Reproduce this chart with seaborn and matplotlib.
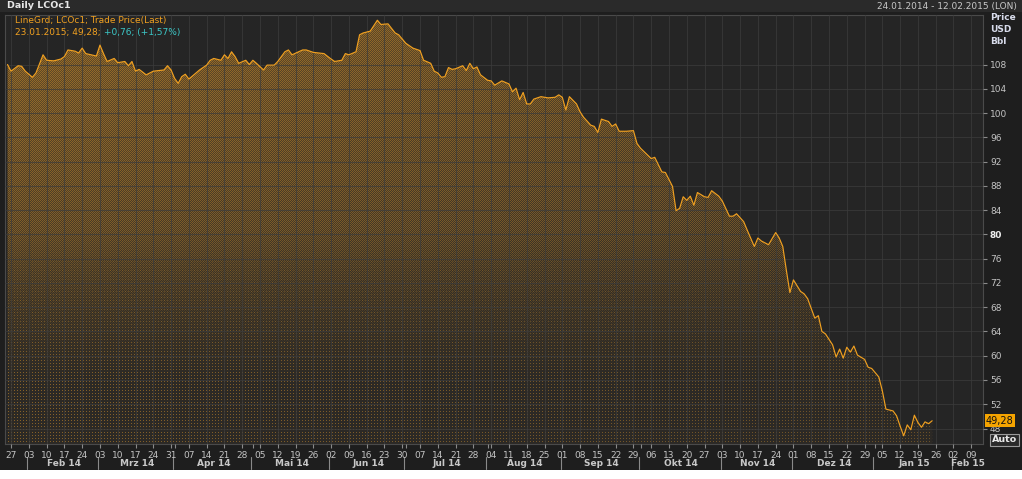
import numpy as np
import pandas as pd
import matplotlib
matplotlib.use("Agg")
import matplotlib.pyplot as plt
import matplotlib.transforms as mtransforms
from matplotlib.patches import Polygon, Rectangle
import seaborn as sns

# Brent LCOc1 daily closes
dates = [
    '2014-01-24', '2014-01-27', '2014-01-29', '2014-01-30', '2014-01-31', '2014-02-04', '2014-02-05',
    '2014-02-07', '2014-02-10', '2014-02-12', '2014-02-14', '2014-02-17', '2014-02-18', '2014-02-20',
    '2014-02-21', '2014-02-24', '2014-02-25', '2014-02-28', '2014-03-03', '2014-03-04', '2014-03-05',
    '2014-03-07', '2014-03-10', '2014-03-12', '2014-03-13', '2014-03-14', '2014-03-17', '2014-03-18',
    '2014-03-20', '2014-03-24', '2014-03-27', '2014-03-28', '2014-03-31', '2014-04-01', '2014-04-02',
    '2014-04-03', '2014-04-04', '2014-04-07', '2014-04-09', '2014-04-10', '2014-04-14', '2014-04-15',
    '2014-04-16', '2014-04-18', '2014-04-21', '2014-04-22', '2014-04-23', '2014-04-24', '2014-04-25',
    '2014-04-29', '2014-04-30', '2014-05-01', '2014-05-02', '2014-05-06', '2014-05-07', '2014-05-09',
    '2014-05-12', '2014-05-14', '2014-05-15', '2014-05-16', '2014-05-21', '2014-05-22', '2014-05-26',
    '2014-05-29', '2014-06-02', '2014-06-03', '2014-06-05', '2014-06-06', '2014-06-09', '2014-06-11',
    '2014-06-12', '2014-06-13', '2014-06-17', '2014-06-19', '2014-06-20', '2014-06-24', '2014-06-26',
    '2014-06-27', '2014-07-01', '2014-07-03', '2014-07-07', '2014-07-08', '2014-07-10', '2014-07-11',
    '2014-07-14', '2014-07-15', '2014-07-16', '2014-07-17', '2014-07-18', '2014-07-21', '2014-07-23',
    '2014-07-24', '2014-07-25', '2014-07-28', '2014-07-29', '2014-07-30', '2014-08-01', '2014-08-04',
    '2014-08-05', '2014-08-07', '2014-08-11', '2014-08-12', '2014-08-13', '2014-08-14', '2014-08-15',
    '2014-08-18', '2014-08-19', '2014-08-20', '2014-08-22', '2014-08-26', '2014-08-28', '2014-08-29',
    '2014-09-01', '2014-09-02', '2014-09-03', '2014-09-05', '2014-09-08', '2014-09-09', '2014-09-11',
    '2014-09-12', '2014-09-15', '2014-09-16', '2014-09-18', '2014-09-19', '2014-09-22', '2014-09-23',
    '2014-09-25', '2014-09-29', '2014-09-30', '2014-10-01', '2014-10-06', '2014-10-07', '2014-10-09',
    '2014-10-10', '2014-10-14', '2014-10-15', '2014-10-16', '2014-10-17', '2014-10-20', '2014-10-21',
    '2014-10-22', '2014-10-23', '2014-10-27', '2014-10-28', '2014-10-29', '2014-10-31', '2014-11-03',
    '2014-11-05', '2014-11-06', '2014-11-07', '2014-11-11', '2014-11-12', '2014-11-14', '2014-11-17',
    '2014-11-18', '2014-11-20', '2014-11-24', '2014-11-25', '2014-11-26', '2014-11-27', '2014-11-28',
    '2014-12-01', '2014-12-03', '2014-12-04', '2014-12-05', '2014-12-09', '2014-12-10', '2014-12-11',
    '2014-12-12', '2014-12-16', '2014-12-17', '2014-12-18', '2014-12-19', '2014-12-22', '2014-12-23',
    '2014-12-24', '2014-12-25', '2014-12-29', '2014-12-30', '2014-12-31', '2015-01-02', '2015-01-05',
    '2015-01-06', '2015-01-08', '2015-01-09', '2015-01-12', '2015-01-13', '2015-01-14', '2015-01-15',
    '2015-01-16', '2015-01-19', '2015-01-20', '2015-01-21', '2015-01-22', '2015-01-23',
]
prices = [
    108.0, 106.9, 107.8, 107.7, 106.9, 105.9, 106.6,
    109.6, 108.7, 108.6, 108.9, 109.3, 110.4, 110.2,
    109.9, 110.7, 109.8, 109.4, 111.2, 109.8, 108.5,
    109.0, 108.3, 108.5, 107.8, 108.5, 106.9, 107.2,
    106.3, 106.9, 107.1, 107.8, 107.1, 105.7, 104.9,
    106.0, 106.4, 105.6, 106.6, 107.1, 107.9, 108.7,
    109.0, 108.7, 109.6, 109.0, 110.1, 109.3, 108.2,
    108.7, 108.0, 108.7, 108.2, 107.1, 107.9, 107.9,
    108.5, 110.1, 110.4, 109.6, 110.4, 110.4, 110.0,
    109.8, 108.9, 108.5, 108.7, 109.8, 109.6, 110.1,
    112.9, 113.2, 113.5, 115.3, 114.6, 114.7, 113.2,
    112.9, 111.5, 110.7, 110.3, 108.7, 108.2, 106.9,
    106.6, 105.9, 106.0, 107.5, 107.2, 107.3, 107.8,
    107.0, 108.2, 107.3, 107.6, 106.3, 105.4, 105.3,
    104.6, 105.3, 104.8, 103.5, 104.1, 102.2, 103.4,
    101.5, 101.5, 102.3, 102.7, 102.5, 102.6, 103.0,
    102.6, 100.5, 102.7, 101.5, 100.2, 99.3, 98.0,
    97.8, 96.8, 99.0, 98.6, 97.8, 98.2, 97.0,
    97.0, 97.1, 95.0, 94.2, 92.5, 92.7, 90.3,
    90.2, 87.9, 83.9, 84.3, 86.2, 85.6, 86.3,
    84.8, 86.9, 86.2, 86.1, 87.2, 86.3, 85.5,
    83.0, 83.0, 83.4, 82.1, 80.7, 78.0, 79.4,
    78.9, 78.3, 80.3, 79.4, 78.0, 74.1, 70.4,
    72.5, 70.6, 70.2, 69.4, 66.2, 66.6, 64.0,
    63.6, 61.8, 59.8, 61.1, 59.6, 61.4, 60.6,
    61.6, 60.1, 59.4, 58.1, 57.9, 56.5, 54.2,
    51.2, 50.9, 50.1, 48.4, 46.8, 48.6, 47.8,
    50.2, 49.0, 48.2, 49.1, 48.8, 49.28,
]
y_ticks = list(range(48, 109, 4))
month_names = ['Jan', 'Feb', 'Mrz', 'Apr', 'Mai', 'Jun', 'Jul', 'Aug', 'Sep', 'Okt', 'Nov', 'Dez']

ORANGE = '#f0a020'
CYAN = '#3cc8c8'
FIG_BG = '#1e1e1e'
AX_BG = '#252525'

sns.set_theme(style="dark")
plt.rcParams['font.family'] = ['DejaVu Sans']

# x axis runs on trading sessions (weekends skipped)
sessions = pd.bdate_range('2014-01-24', '2015-02-12')
df = pd.DataFrame({'date': pd.to_datetime(dates), 'price': prices})
df['pos'] = sessions.get_indexer(df['date'])

W_PX, H_PX = 1022, 479
fig = plt.figure(figsize=(W_PX / 100, H_PX / 100), dpi=100, facecolor=FIG_BG)


def px(x, y):
    return x / W_PX, 1 - y / H_PX


ax_l, ax_t, ax_r, ax_b = 5, 15, 983, 444
ax = fig.add_axes([ax_l / W_PX, 1 - ax_b / H_PX, (ax_r - ax_l) / W_PX, (ax_b - ax_t) / H_PX])
ax.set_zorder(2)
ax.patch.set_alpha(0)
fig.add_artist(Rectangle((ax_l / W_PX, 1 - ax_b / H_PX), (ax_r - ax_l) / W_PX, (ax_b - ax_t) / H_PX,
                         transform=fig.transFigure, facecolor=AX_BG, edgecolor='none', zorder=0.1))
xlim = (-0.7, 274.3)
ylim = (45.45, 116.16)

# dotted gradient texture for the area under the line (pixel exact via figimage)
W, H = ax_r - ax_l, ax_b - ax_t
yy, xx = np.mgrid[0:H, 0:W]
t = yy / (H - 1)
s = xx / (W - 1)
g = 1 - 0.3 * s
m = (0.48 - 0.30 * t) * g
checker = (xx + yy) % 2 == 0
a_check = np.where(checker, m + 0.14, np.clip(m - 0.14, 0.02, None))
grid3 = (xx % 3 == 0) & (yy % 3 == 0)
a_sparse = np.where(grid3, 0.5 * g, 0.04)
w = np.clip((t - 0.5) / 0.35, 0, 1)
a = ((1 - w) * a_check + w * a_sparse)[..., None]
dark = np.array([37, 37, 37]) / 255
orange = np.array([232, 158, 45]) / 255
img = np.clip(dark + a * (orange - dark), 0, 1)

im = fig.figimage(img, xo=ax_l, yo=H_PX - ax_b, origin='upper', zorder=1)
verts = [(df['pos'].iloc[0], ylim[0])] + list(zip(df['pos'], df['price'])) + [(df['pos'].iloc[-1], ylim[0])]
clip = Polygon(verts, closed=True, transform=ax.transData, facecolor='none', edgecolor='none')
ax.add_patch(clip)
im.set_clip_path(clip)

sns.lineplot(data=df, x='pos', y='price', ax=ax, color=ORANGE, linewidth=0.85, zorder=4)

ax.set_xlim(*xlim)
ax.set_ylim(*ylim)
ax.set_xlabel('')
ax.set_ylabel('')

# weekly ticks on Mondays
mondays = [i for i, d in enumerate(sessions) if d.weekday() == 0]
ax.set_xticks(mondays)
ax.set_xticklabels([sessions[i].strftime('%d') for i in mondays])
month_starts = [i for i in range(1, len(sessions)) if sessions[i].month != sessions[i - 1].month]
ax.set_xticks(month_starts, minor=True)

ax.yaxis.tick_right()
ax.set_yticks(y_ticks)
ax.set_yticklabels([str(v) for v in y_ticks])

ax.tick_params(axis='both', which='both', colors='#8a8a8a', labelcolor='#c4c4c4',
               labelsize=6.5, length=3, width=0.8, direction='out', pad=2)
ax.tick_params(axis='y', which='major', right=True, left=False)
ax.tick_params(axis='x', which='both', bottom=True)
for lab in ax.get_yticklabels():
    if lab.get_text() == '80':
        lab.set_fontweight('bold')
        lab.set_color('#f0f0f0')

ax.grid(True, which='major', color='#3c3c3c', linewidth=0.8, alpha=0.7)
ax.set_axisbelow(False)
for sp in ax.spines.values():
    sp.set_color('#4a4a4a')
    sp.set_linewidth(0.8)

# month row under the day labels
trans = mtransforms.blended_transform_factory(ax.transData, fig.transFigure)
bounds = month_starts + [xlim[1]]
for j, start in enumerate(month_starts):
    d = sessions[start]
    mid = (start + bounds[j + 1]) / 2
    name = f"{month_names[d.month - 1]} {d.strftime('%y')}"
    fig.text(mid, 1 - 464 / H_PX, name, transform=trans, ha='center', va='center',
             fontsize=6.5, fontweight='bold', color='#c8c8c8')
    ax.plot([start - 0.5, start - 0.5], [1 - 457 / H_PX, 1 - 469 / H_PX], transform=trans,
            color='#8a8a8a', lw=0.8, clip_on=False)

# header
fig.add_artist(Rectangle((0, 1 - 12 / H_PX), 1, 12 / H_PX, transform=fig.transFigure,
                         facecolor='#2a2a2a', edgecolor='none', zorder=0.1))
fig.text(*px(7, 6), 'Daily LCOc1', fontsize=6.8, fontweight='bold', color='#e6e6e6', va='center')
fig.text(*px(1017, 6), '24.01.2014 - 12.02.2015 (LON)', fontsize=6.5, color='#c8c8c8',
         va='center', ha='right')

# legend lines inside the plot
fig.text(*px(15, 20), 'LineGrd; LCOc1; Trade Price(Last)', fontsize=6.5, color=ORANGE, va='center',
         zorder=5)
t1 = fig.text(*px(15, 33), '23.01.2015; 49,28; ', fontsize=6.5, color=ORANGE, va='center', zorder=5)
renderer = fig.canvas.get_renderer()
bb = t1.get_window_extent(renderer)
fig.text(bb.x1 / W_PX, 1 - 33 / H_PX, '+0,76; (+1,57%)', fontsize=6.5, color=CYAN, va='center',
         zorder=5)

# unit labels on the right
for yy_px, lbl in [(18, 'Price'), (30, 'USD'), (41, 'Bbl')]:
    fig.text(*px(990, yy_px), lbl, fontsize=6.5, fontweight='bold', color='#d8dcec', va='center')

# last value tag and Auto button
tag_trans = mtransforms.blended_transform_factory(fig.transFigure, ax.transData)
ax.text(986 / W_PX, prices[-1], '49,28', transform=tag_trans, fontsize=7, color='#101010',
        va='center', ha='left', clip_on=False, zorder=6,
        bbox=dict(boxstyle='square,pad=0.15', facecolor='#f5a400', edgecolor='none'))
fig.text(*px(992, 440), 'Auto', fontsize=6.8, fontweight='bold', color='#e8e8e8', va='center',
         bbox=dict(boxstyle='square,pad=0.2', facecolor='#2a2a2a', edgecolor='#9a9a9a', linewidth=0.8))

# white strip under the chart frame
fig.add_artist(Rectangle((0, 0), 1, 9 / H_PX, transform=fig.transFigure,
                         facecolor='white', edgecolor='none', zorder=0.1))

fig.savefig('out.png', dpi=100, facecolor=FIG_BG)
